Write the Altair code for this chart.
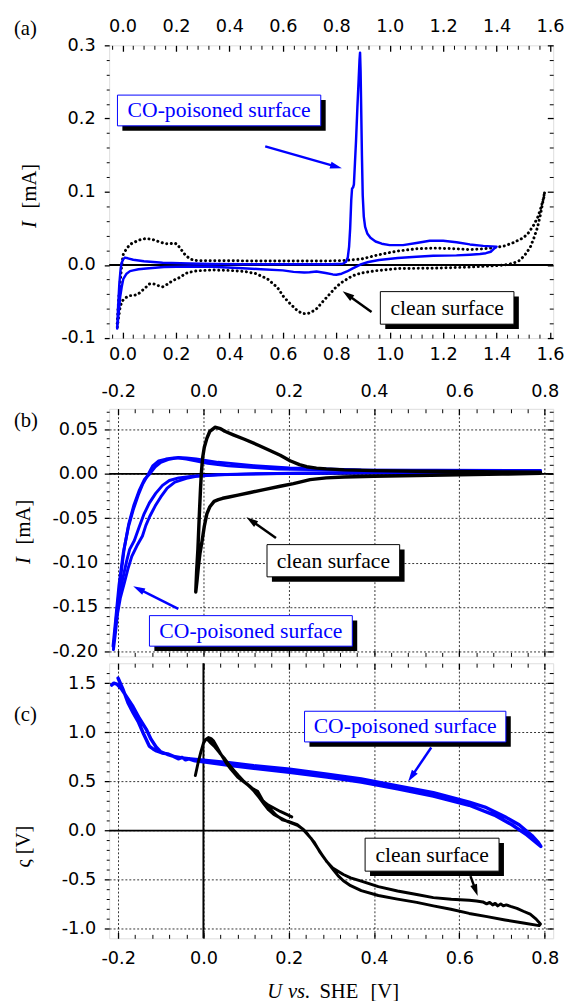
import math
import altair as alt
import pandas as pd

# ----------------------------- data -----------------------------
# (a) CV, I [mA] vs U [V]: (x, y) pairs in scan order
a_co = [(-0.020, -0.087), (-0.017, -0.060), (-0.012, -0.026), (-0.007, -0.005), (-0.003, 0.003),
        (0.003, 0.008), (0.009, 0.010), (0.020, 0.009), (0.040, 0.007), (0.080, 0.005), (0.150, 0.003),
        (0.250, 0.0018), (0.334, 0.0012), (0.450, 0.001), (0.600, 0.001), (0.700, 0.001), (0.780, 0.001),
        (0.824, 0.0015), (0.836, 0.004), (0.843, 0.010), (0.848, 0.025), (0.852, 0.050), (0.856, 0.088),
        (0.859, 0.104), (0.863, 0.106), (0.866, 0.110), (0.870, 0.140), (0.874, 0.170), (0.879, 0.215),
        (0.884, 0.255), (0.887, 0.280), (0.889, 0.290), (0.891, 0.265), (0.893, 0.220), (0.896, 0.150),
        (0.899, 0.095), (0.903, 0.066), (0.908, 0.052), (0.916, 0.043), (0.928, 0.037), (0.947, 0.032),
        (0.970, 0.029), (1.000, 0.027), (1.050, 0.027), (1.100, 0.030), (1.150, 0.033), (1.200, 0.033),
        (1.250, 0.031), (1.300, 0.028), (1.350, 0.026), (1.400, 0.025), (1.390, 0.022), (1.378, 0.018),
        (1.360, 0.016), (1.338, 0.015), (1.300, 0.014), (1.250, 0.013), (1.163, 0.0125), (1.100, 0.011),
        (1.030, 0.0094), (0.960, 0.0067), (0.920, 0.004), (0.894, 0.001), (0.860, -0.005), (0.840, -0.009),
        (0.820, -0.012), (0.800, -0.0135), (0.787, -0.013), (0.760, -0.011), (0.726, -0.009), (0.700, -0.010),
        (0.680, -0.0104), (0.640, -0.0095), (0.600, -0.0075), (0.518, -0.0059), (0.450, -0.0045),
        (0.334, -0.0025), (0.250, -0.0022), (0.155, -0.003), (0.089, -0.005), (0.060, -0.006),
        (0.040, -0.0075), (0.028, -0.0085), (0.015, -0.012), (0.003, -0.019), (-0.003, -0.030),
        (-0.009, -0.044), (-0.013, -0.060), (-0.017, -0.075), (-0.020, -0.087)]
a_clean = [(-0.020, -0.080), (-0.015, -0.050), (-0.008, -0.020), (-0.003, 0.000), (0.003, 0.015),
           (0.015, 0.022), (0.028, 0.028), (0.050, 0.032), (0.070, 0.035), (0.089, 0.036), (0.110, 0.035),
           (0.138, 0.0315), (0.162, 0.0288), (0.180, 0.029), (0.193, 0.030), (0.205, 0.028), (0.215, 0.023),
           (0.236, 0.013), (0.250, 0.009), (0.266, 0.0063), (0.290, 0.0058), (0.334, 0.0058), (0.450, 0.0055),
           (0.600, 0.0052), (0.750, 0.0052), (0.827, 0.006), (0.894, 0.008), (0.960, 0.014), (1.030, 0.019),
           (1.100, 0.022), (1.163, 0.023), (1.250, 0.022), (1.300, 0.021), (1.350, 0.022), (1.400, 0.024),
           (1.430, 0.026), (1.460, 0.030), (1.500, 0.037), (1.520, 0.044), (1.540, 0.055), (1.555, 0.066),
           (1.566, 0.078), (1.575, 0.090), (1.580, 0.100), (1.578, 0.094), (1.573, 0.086), (1.565, 0.070),
           (1.553, 0.051), (1.540, 0.037), (1.526, 0.024), (1.505, 0.013), (1.486, 0.006), (1.460, 0.002),
           (1.430, 0.000), (1.400, -0.001), (1.300, -0.003), (1.163, -0.0045), (1.030, -0.005),
           (0.947, -0.008), (0.894, -0.011), (0.860, -0.015), (0.824, -0.023), (0.800, -0.030),
           (0.775, -0.040), (0.750, -0.050), (0.726, -0.060), (0.705, -0.065), (0.689, -0.067),
           (0.670, -0.066), (0.653, -0.062), (0.630, -0.054), (0.604, -0.044), (0.580, -0.031),
           (0.542, -0.019), (0.500, -0.012), (0.457, -0.009), (0.400, -0.0075), (0.334, -0.007),
           (0.280, -0.008), (0.250, -0.010), (0.236, -0.0117), (0.215, -0.017), (0.187, -0.0216),
           (0.170, -0.026), (0.150, -0.030), (0.130, -0.028), (0.114, -0.0255), (0.101, -0.026),
           (0.080, -0.033), (0.058, -0.040), (0.040, -0.042), (0.028, -0.042), (0.010, -0.045),
           (-0.003, -0.050), (-0.010, -0.060), (-0.015, -0.072), (-0.020, -0.086)]

# (b) CV, I [mA] vs U [V]
b_clean = [(-0.018, -0.133), (-0.016, -0.110), (-0.013, -0.085), (-0.010, -0.050), (-0.007, -0.018),
           (-0.005, 0.000), (-0.002, 0.018), (0.002, 0.030), (0.008, 0.040), (0.015, 0.048), (0.027, 0.0525),
           (0.040, 0.051), (0.050, 0.048), (0.070, 0.044), (0.096, 0.039), (0.130, 0.032), (0.157, 0.026),
           (0.180, 0.021), (0.203, 0.0148), (0.225, 0.0105), (0.242, 0.0081), (0.265, 0.0065), (0.288, 0.0056),
           (0.330, 0.0045), (0.400, 0.0037), (0.500, 0.003), (0.600, 0.0026), (0.700, 0.0022), (0.790, 0.0019),
           (0.790, 0.0007), (0.700, -0.0003), (0.600, -0.001), (0.500, -0.0018), (0.400, -0.0026),
           (0.330, -0.0035), (0.288, -0.0045), (0.250, -0.0065), (0.211, -0.011), (0.180, -0.014),
           (0.142, -0.0178), (0.110, -0.021), (0.081, -0.024), (0.060, -0.026), (0.045, -0.0275),
           (0.035, -0.029), (0.025, -0.031), (0.015, -0.037), (0.008, -0.045), (0.002, -0.059),
           (-0.003, -0.075), (-0.008, -0.089), (-0.012, -0.105), (-0.015, -0.120), (-0.018, -0.133)]
b_co_1 = [(-0.212, -0.194), (-0.205, -0.160), (-0.198, -0.125), (-0.188, -0.089), (-0.176, -0.060),
          (-0.165, -0.041), (-0.153, -0.024), (-0.142, -0.011), (-0.130, -0.001), (-0.119, 0.009),
          (-0.105, 0.0145), (-0.088, 0.0167), (-0.070, 0.0178), (-0.058, 0.0178), (-0.040, 0.0168),
          (-0.019, 0.0148), (0.010, 0.012), (0.058, 0.009), (0.120, 0.0072), (0.173, 0.0056), (0.250, 0.0048),
          (0.350, 0.0042), (0.500, 0.0038), (0.650, 0.0036), (0.790, 0.0035), (0.790, 0.0022), (0.650, 0.0020),
          (0.500, 0.0016), (0.350, 0.0012), (0.200, 0.0005), (0.100, 0.0000), (0.034, -0.0010),
          (-0.004, -0.0020), (-0.030, -0.0030), (-0.058, -0.0045), (-0.080, -0.0075), (-0.096, -0.013),
          (-0.112, -0.022), (-0.127, -0.033), (-0.140, -0.046), (-0.150, -0.059), (-0.162, -0.075),
          (-0.173, -0.085), (-0.180, -0.098), (-0.190, -0.120), (-0.198, -0.140), (-0.203, -0.160),
          (-0.208, -0.178), (-0.212, -0.194)]
b_co_2 = [(-0.211, -0.198), (-0.203, -0.155), (-0.195, -0.120), (-0.186, -0.085), (-0.175, -0.056),
          (-0.163, -0.035), (-0.150, -0.018), (-0.138, -0.006), (-0.126, 0.000), (-0.113, 0.008),
          (-0.100, 0.013), (-0.080, 0.0165), (-0.059, 0.0185), (-0.040, 0.018), (-0.017, 0.0167),
          (0.034, 0.013), (0.118, 0.0093), (0.202, 0.0067), (0.370, 0.0044), (0.790, 0.0037),
          (0.790, 0.0025), (0.500, 0.0018), (0.200, 0.0006), (0.034, -0.0011), (-0.017, -0.0026),
          (-0.040, -0.005), (-0.067, -0.0093), (-0.085, -0.016), (-0.100, -0.026), (-0.113, -0.036),
          (-0.126, -0.048), (-0.135, -0.058), (-0.143, -0.070), (-0.156, -0.081), (-0.168, -0.093),
          (-0.177, -0.107), (-0.185, -0.122), (-0.195, -0.140), (-0.202, -0.159), (-0.206, -0.178),
          (-0.211, -0.198)]

# (c) ς [V] vs U [V]
c_co = [(-0.200, 1.55), (-0.188, 1.43), (-0.177, 1.30), (-0.165, 1.20), (-0.152, 1.10), (-0.140, 0.98),
        (-0.127, 0.86), (-0.118, 0.83), (-0.110, 0.81), (-0.097, 0.79), (-0.084, 0.78), (-0.070, 0.755),
        (-0.059, 0.73), (-0.050, 0.745), (-0.042, 0.72), (-0.034, 0.73), (-0.020, 0.71), (0.000, 0.70),
        (0.060, 0.665), (0.118, 0.634), (0.202, 0.594), (0.290, 0.545), (0.370, 0.493), (0.455, 0.426),
        (0.539, 0.352), (0.623, 0.258), (0.682, 0.158), (0.724, 0.057), (0.758, -0.044), (0.791, -0.161),
        (0.785, -0.12), (0.770, -0.05), (0.740, 0.06), (0.707, 0.14), (0.660, 0.24), (0.623, 0.29),
        (0.539, 0.385), (0.455, 0.455), (0.370, 0.525), (0.290, 0.575), (0.202, 0.625), (0.118, 0.66),
        (0.060, 0.69), (0.000, 0.715), (-0.030, 0.73), (-0.050, 0.74), (-0.070, 0.755), (-0.085, 0.775),
        (-0.100, 0.80), (-0.111, 0.85), (-0.123, 0.93), (-0.134, 1.03), (-0.150, 1.14), (-0.165, 1.26),
        (-0.180, 1.36), (-0.192, 1.44), (-0.203, 1.49), (-0.210, 1.50), (-0.215, 1.48)]
c_clean = [(-0.019, 0.56), (-0.012, 0.70), (-0.006, 0.80), (0.000, 0.89), (0.006, 0.93), (0.012, 0.946),
           (0.018, 0.935), (0.024, 0.91), (0.033, 0.84), (0.042, 0.77), (0.053, 0.69), (0.065, 0.62),
           (0.080, 0.545), (0.096, 0.49), (0.108, 0.45), (0.119, 0.40), (0.130, 0.34), (0.142, 0.27),
           (0.153, 0.21), (0.165, 0.165), (0.180, 0.13), (0.196, 0.095), (0.210, 0.07), (0.222, 0.05),
           (0.235, 0.01), (0.245, -0.04), (0.260, -0.12), (0.272, -0.21), (0.285, -0.29), (0.295, -0.345),
           (0.305, -0.40), (0.316, -0.46), (0.328, -0.51), (0.345, -0.56), (0.370, -0.61), (0.410, -0.66),
           (0.455, -0.697), (0.500, -0.73), (0.539, -0.765), (0.580, -0.80), (0.623, -0.842), (0.665, -0.875),
           (0.707, -0.909), (0.750, -0.94), (0.787, -0.966),
           (0.790, -0.95), (0.780, -0.90), (0.766, -0.85), (0.750, -0.82), (0.735, -0.79), (0.720, -0.77),
           (0.710, -0.755), (0.703, -0.765), (0.697, -0.745), (0.690, -0.765), (0.684, -0.74),
           (0.678, -0.755), (0.671, -0.73), (0.664, -0.745), (0.655, -0.725), (0.640, -0.715),
           (0.623, -0.708), (0.581, -0.697), (0.539, -0.681), (0.500, -0.65), (0.455, -0.614),
           (0.410, -0.57), (0.370, -0.513), (0.345, -0.48), (0.328, -0.446), (0.303, -0.379),
           (0.290, -0.32), (0.278, -0.245), (0.265, -0.16), (0.252, -0.077), (0.240, -0.02), (0.231, 0.023),
           (0.220, 0.06), (0.202, 0.09), (0.185, 0.11), (0.170, 0.16), (0.157, 0.22), (0.145, 0.28),
           (0.132, 0.34), (0.120, 0.41), (0.108, 0.455), (0.095, 0.50), (0.082, 0.56), (0.070, 0.62),
           (0.058, 0.68), (0.045, 0.75), (0.035, 0.82), (0.025, 0.88), (0.015, 0.92), (0.008, 0.935),
           (0.015, 0.90), (0.025, 0.86), (0.038, 0.79), (0.050, 0.73), (0.065, 0.64), (0.080, 0.56),
           (0.095, 0.50), (0.110, 0.44), (0.127, 0.40), (0.140, 0.30), (0.152, 0.26), (0.165, 0.23),
           (0.180, 0.195), (0.195, 0.165), (0.207, 0.14)]

# tick values (labels are formatted from these)
a_xticks = [round(-0.04 + 0.04 * k, 2) for k in range(42)]
a_yticks = [round(-0.10 + 0.02 * k, 2) for k in range(21)]
bc_xticks = [round(-0.20 + 0.04 * k, 2) for k in range(26)]
b_yticks = [round(-0.20 + 0.01 * k, 2) for k in range(28)]
c_yticks = [round(-1.00 + 0.10 * k, 1) for k in range(27)]

label_co = "CO-poisoned surface"
label_clean = "clean surface"

# ----------------------------- style / layout -----------------------------
SERIF = "'Liberation Serif', 'Times New Roman', Times, serif"
SANS = "'DejaVu Sans', Verdana, sans-serif"
BLUE = "#0000ff"
W = 452
XA, YA, HA = [-0.05, 1.612], [-0.1, 0.3], 298
XB, YB, HB = [-0.221, 0.82], [-0.2056, 0.0733], 252
XC, YC, HC = [-0.221, 0.82], [-1.095, 1.702], 280
TICKFONT = 18


def sc(dom):
    return alt.Scale(domain=dom, nice=False, zero=False)


def split(vals, step):
    maj = [v for v in vals if abs(v / step - round(v / step)) < 1e-6]
    mnr = [v for v in vals if v not in maj]
    return maj, mnr


def tick_axis(orient, values, size, grid=False, width=1.3):
    kw = dict(orient=orient, values=values, title=None, domain=False, tickColor="black",
              tickWidth=width, labels=False, grid=grid)
    kw["tickSize"] = size if size >= 0 else alt.ExprRef(expr=str(size))
    if grid:
        kw.update(gridColor="black", gridDash=[2, 2], gridWidth=0.8, gridOpacity=1)
    return alt.Axis(**kw)


def label_axis(orient, values, fmt, pad, ticks=False, size=0, width=1.3, grid=False):
    kw = dict(orient=orient, values=values, title=None, domain=False, ticks=ticks,
              labelExpr="replace(format(datum.value, '%s'), '\u2212', '-')" % fmt,
              labelFont=SANS, labelFontSize=TICKFONT, labelColor="black", labelPadding=pad,
              labelOverlap=False, grid=grid)
    if ticks:
        kw.update(tickSize=size, tickColor="black", tickWidth=width)
    if grid:
        kw.update(gridColor="black", gridDash=[2, 2], gridWidth=0.8, gridOpacity=1)
    return alt.Axis(**kw)


def frame_layers(xdom, ydom, xt, xstep, yt, ystep, bfmt, tfmt, yfmt, pads, grid):
    xmaj, xmin = split(xt, xstep)
    ymaj, ymin = split(yt, ystep)
    holder = pd.DataFrame({"x": xdom, "y": ydom})

    def hold(ax_x, ax_y):
        return alt.Chart(holder).mark_point(opacity=0, size=0).encode(
            x=alt.X("x:Q", scale=sc(xdom), axis=ax_x),
            y=alt.Y("y:Q", scale=sc(ydom), axis=ax_y))

    layers = [
        hold(tick_axis("bottom", xmaj, -6, grid), label_axis("left", ymaj, yfmt, pads["left"], True, 5, 1.3, grid)),
        hold(tick_axis("bottom", xmin, -4, width=1), tick_axis("left", ymin, 3, width=1)),
        hold(tick_axis("top", xmaj, -6), tick_axis("right", ymaj, -6)),
        hold(tick_axis("top", xmin, -4, width=1), tick_axis("right", ymin, -4, width=1)),
    ]
    if bfmt:
        layers.append(hold(label_axis("bottom", xmaj, bfmt, pads["bottom"]), None))
    if tfmt:
        layers.append(hold(label_axis("top", xmaj, tfmt, pads["top"]), None))
    return layers


def curve(pairs, xdom, ydom, color, width, dash=None):
    df = pd.DataFrame({"x": [p[0] for p in pairs], "y": [p[1] for p in pairs],
                       "i": list(range(len(pairs)))})
    mk = dict(color=color, strokeWidth=width, strokeJoin="round", strokeCap="round")
    if dash:
        mk["strokeDash"] = dash
    return alt.Chart(df).mark_line(**mk).encode(
        x=alt.X("x:Q", scale=sc(xdom), axis=None),
        y=alt.Y("y:Q", scale=sc(ydom), axis=None),
        order="i:Q")


def hrule(val, xdom, ydom):
    return alt.Chart(pd.DataFrame({"y": [val]})).mark_rule(color="black", strokeWidth=2).encode(
        y=alt.Y("y:Q", scale=sc(ydom), axis=None))


def vrule(val, xdom, ydom):
    return alt.Chart(pd.DataFrame({"x": [val]})).mark_rule(color="black", strokeWidth=2).encode(
        x=alt.X("x:Q", scale=sc(xdom), axis=None))


def box(x0, x1, y0, y1, text, color, xdom, ydom, shadow=5):
    df = pd.DataFrame({"x": [x0], "x2": [x1], "y": [y0], "y2": [y1],
                       "tx": [(x0 + x1) / 2], "ty": [(y0 + y1) / 2]})
    X = alt.X("x:Q", scale=sc(xdom), axis=None)
    Y = alt.Y("y:Q", scale=sc(ydom), axis=None)
    sh = alt.Chart(df).mark_rect(color="black", xOffset=shadow, x2Offset=shadow,
                                 yOffset=shadow, y2Offset=shadow).encode(x=X, x2="x2:Q", y=Y, y2="y2:Q")
    bx = alt.Chart(df).mark_rect(fill="white", stroke=color, strokeWidth=1).encode(
        x=X, x2="x2:Q", y=Y, y2="y2:Q")
    tx = alt.Chart(df).mark_text(text=text, font=SERIF, fontSize=22, color=color,
                                 baseline="middle").encode(
        x=alt.X("tx:Q", scale=sc(xdom), axis=None), y=alt.Y("ty:Q", scale=sc(ydom), axis=None))
    return [sh, bx, tx]


def arrow(p0, p1, color, xdom, ydom, h, sw=2.5, size=144, back=6):
    sx = W / (xdom[1] - xdom[0])
    sy = h / (ydom[1] - ydom[0])
    dx = (p1[0] - p0[0]) * sx
    dy = -(p1[1] - p0[1]) * sy
    L = math.hypot(dx, dy)
    ux, uy = dx / L, dy / L
    ang = math.degrees(math.atan2(ux, -uy)) % 360
    hx = p1[0] - ux * back / sx
    hy = p1[1] + uy * back / sy
    seg = pd.DataFrame({"x": [p0[0]], "y": [p0[1]], "x2": [hx], "y2": [hy]})
    X = alt.X("x:Q", scale=sc(xdom), axis=None)
    Y = alt.Y("y:Q", scale=sc(ydom), axis=None)
    line = alt.Chart(seg).mark_rule(color=color, strokeWidth=sw).encode(x=X, y=Y, x2="x2:Q", y2="y2:Q")
    tri = alt.Chart(seg).mark_point(shape="M0,-1L-0.6,1L0.6,1Z", filled=True, color=color, opacity=1,
                                    size=size, angle=ang, strokeWidth=0).encode(
        x=alt.X("x2:Q", scale=sc(xdom), axis=None), y=alt.Y("y2:Q", scale=sc(ydom), axis=None))
    return [line, tri]


def ptext(s, x, y, size=21, style="normal", angle=0, align="center", color="black"):
    return alt.Chart(pd.DataFrame({"k": [0]})).mark_text(
        text=s, font=SERIF, fontSize=size, fontStyle=style, angle=angle, align=align,
        baseline="middle", color=color).encode(x=alt.value(x), y=alt.value(y))


# ----------------------------- panel (a) -----------------------------
A = alt.layer(
    hrule(0, XA, YA),
    *frame_layers(XA, YA, a_xticks, 0.2, a_yticks, 0.1, ".1f", ".1f", ".1f",
                  {"bottom": 7.6, "top": 10, "left": 9.3}, False),
    curve(a_clean, XA, YA, "black", 3, [0.1, 4.6]),
    curve(a_co, XA, YA, BLUE, 2.5),
    *box(-0.019, 0.742, 0.190, 0.232, label_co, BLUE, XA, YA),
    *arrow((0.534, 0.162), (0.821, 0.132), BLUE, XA, YA, HA),
    *box(0.965, 1.465, -0.081, -0.0365, label_clean, "black", XA, YA),
    *arrow((0.932, -0.0645), (0.824, -0.036), "black", XA, YA, HA),
    ptext("(a)", -97, -17, align="left"),
    ptext("I", -80.5, 186, style="italic", angle=270, align="left"),
    ptext("[mA]", -80.5, 166, angle=270, align="left"),
).resolve_axis(x="independent", y="independent").properties(width=W, height=HA)

# ----------------------------- panel (b) -----------------------------
B = alt.layer(
    hrule(0, XB, YB),
    *frame_layers(XB, YB, bc_xticks, 0.2, b_yticks, 0.05, None, ".1f", ".2f",
                  {"bottom": 0, "top": 8.5, "left": 6.7}, True),
    curve(b_co_2, XB, YB, BLUE, 3),
    curve(b_co_1, XB, YB, BLUE, 3),
    curve(b_clean, XB, YB, "black", 3.5),
    *box(0.149, 0.460, -0.116, -0.0797, label_clean, "black", XB, YB),
    *arrow((0.170, -0.0722), (0.1008, -0.0489), "black", XB, YB, HB),
    *box(-0.1266, 0.349, -0.1941, -0.1597, label_co, BLUE, XB, YB),
    *arrow((-0.059, -0.152), (-0.1646, -0.1267), BLUE, XB, YB, HB),
    ptext("(b)", -97, 12.7, align="left"),
    ptext("I", -86.7, 158, style="italic", angle=270, align="left"),
    ptext("[mA]", -86.7, 138, angle=270, align="left"),
).resolve_axis(x="independent", y="independent").properties(width=W, height=HB)

# ----------------------------- panel (c) -----------------------------
C = alt.layer(
    hrule(0, XC, YC),
    vrule(0, XC, YC),
    *frame_layers(XC, YC, bc_xticks, 0.2, c_yticks, 0.5, ".1f", None, ".1f",
                  {"bottom": 11.2, "top": 0, "left": 8.7}, True),
    curve(c_co, XC, YC, BLUE, 3.5),
    curve(c_clean, XC, YC, "black", 3),
    *box(0.237, 0.709, 0.902, 1.214, label_co, BLUE, XC, YC),
    *arrow((0.534, 0.845), (0.480, 0.500), BLUE, XC, YC, HC),
    *box(0.379, 0.693, -0.412, -0.077, label_clean, "black", XC, YC),
    *arrow((0.626, -0.463), (0.643, -0.664), "black", XC, YC, HC),
    ptext("(c)", -97, 53, align="left"),
    ptext("\u03c2 [V]", -86.7, 208, angle=270, align="left"),
    ptext("U", 161, 335, style="italic", align="left"),
    ptext("vs.", 182, 335, style="italic", align="left"),
    ptext("SHE", 214, 335, align="left"),
    ptext("[V]", 266, 335, align="left"),
).resolve_axis(x="independent", y="independent").properties(width=W, height=HC)

chart = alt.vconcat(A, alt.vconcat(B, C, spacing=0), spacing=18).properties(
    padding={"left": 4, "top": 0, "right": 0, "bottom": 0}
).configure_view(stroke="black", strokeWidth=2).configure(background="white")

chart.save("out.html", embed_options={"renderer": "svg", "actions": False})
